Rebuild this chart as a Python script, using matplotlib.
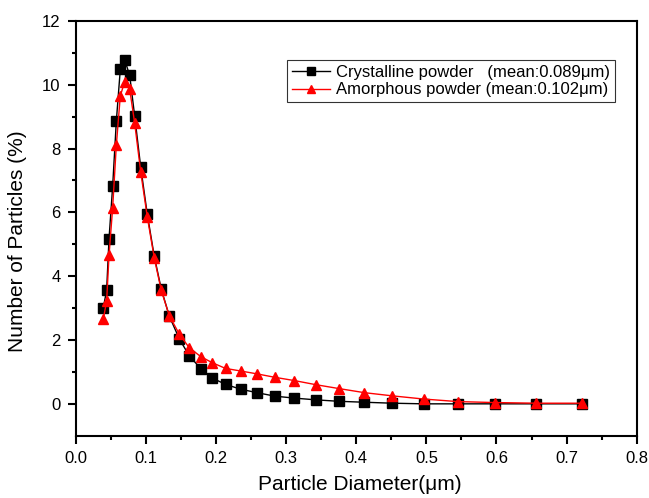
# Particle size distribution: crystalline vs amorphous powder

import matplotlib
matplotlib.use("Agg")
import matplotlib.pyplot as plt

plt.rcParams["font.family"] = ["Liberation Sans", "DejaVu Sans"]

# ---------------------------------------------------------------------------
# Data
# ---------------------------------------------------------------------------
diameter = [0.0390, 0.0438, 0.0472, 0.0524, 0.0576, 0.0633, 0.0696, 0.0767,
            0.0838, 0.0924, 0.1018, 0.1117, 0.1217, 0.1332, 0.1476, 0.1616,
            0.1781, 0.1944, 0.2134, 0.2348, 0.2582, 0.2841, 0.3114, 0.3424,
            0.3748, 0.4116, 0.4515, 0.4963, 0.5452, 0.5980, 0.6568, 0.7215]

crystalline = [3.01, 3.56, 5.17, 6.82, 8.85, 10.48, 10.78, 10.29,
               9.02, 7.42, 5.94, 4.63, 3.60, 2.75, 2.03, 1.51,
               1.10, 0.81, 0.61, 0.46, 0.35, 0.24, 0.18, 0.125,
               0.08, 0.05, 0.02, 0.0, 0.0, 0.0, 0.0, 0.0]

amorphous = [2.65, 3.22, 4.65, 6.15, 8.10, 9.65, 10.10, 9.86,
             8.80, 7.27, 5.86, 4.58, 3.56, 2.76, 2.18, 1.76,
             1.48, 1.29, 1.11, 1.03, 0.94, 0.83, 0.73, 0.60,
             0.48, 0.35, 0.25, 0.15, 0.07, 0.04, 0.02, 0.02]

labels = ["Crystalline powder   (mean:0.089\u03bcm)",
          "Amorphous powder (mean:0.102\u03bcm)"]

# ---------------------------------------------------------------------------
# Plot
# ---------------------------------------------------------------------------
fig = plt.figure(figsize=(6.49, 4.98), dpi=100)
ax = fig.add_axes([0.117, 0.125, 0.864, 0.833])

ax.plot(diameter, crystalline, color="black", lw=1.0, marker="s",
        markersize=6.5, label=labels[0], zorder=3)
ax.plot(diameter, amorphous, color="red", lw=1.0, marker="^",
        markersize=7.5, label=labels[1], zorder=4)

ax.set_xlim(0, 0.8)
ax.set_ylim(-1, 12)
ax.set_xticks([0.0, 0.1, 0.2, 0.3, 0.4, 0.5, 0.6, 0.7, 0.8])
ax.set_xticks([0.05, 0.15, 0.25, 0.35, 0.45, 0.55, 0.65, 0.75], minor=True)
ax.set_yticks([0, 2, 4, 6, 8, 10, 12])
ax.set_yticks([1, 3, 5, 7, 9, 11], minor=True)
ax.xaxis.set_major_formatter(matplotlib.ticker.FormatStrFormatter("%.1f"))

ax.tick_params(which="major", direction="out", length=6, width=1.5,
               labelsize=12, colors="black", pad=5)
ax.tick_params(which="minor", direction="out", length=3, width=1.5)
for sp in ax.spines.values():
    sp.set_linewidth(1.5)

ax.set_xlabel("Particle Diameter(\u03bcm)", fontsize=15)
ax.set_ylabel("Number of Particles (%)", fontsize=15)
ax.xaxis.set_label_coords(0.506, -0.094)
ax.yaxis.set_label_coords(-0.087, 0.47)

leg = ax.legend(loc="upper right", bbox_to_anchor=(0.961, 0.906),
                fontsize=12, frameon=True, fancybox=False, numpoints=1,
                handlelength=2.3, handletextpad=0.35, borderpad=0.3,
                labelspacing=0.15, borderaxespad=0, markerscale=0.8)
leg.get_frame().set_edgecolor("black")
leg.get_frame().set_linewidth(0.8)

fig.savefig("out.png", dpi=100)
